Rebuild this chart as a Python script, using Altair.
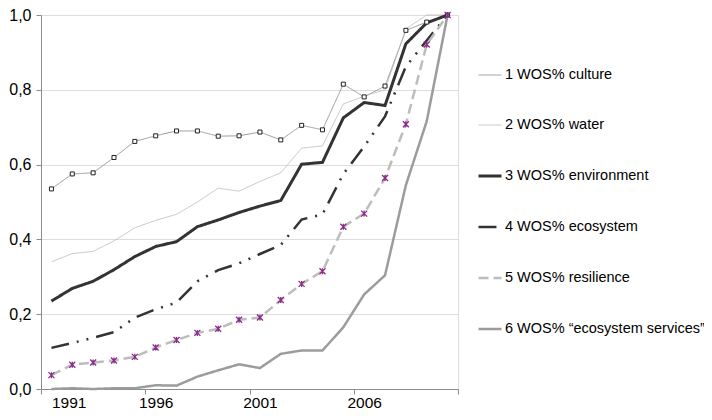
import altair as alt
import pandas as pd

years = list(range(1991, 2011))

series = [
    "1 WOS% culture",
    "2 WOS% water",
    "3 WOS% environment",
    "4 WOS% ecosystem",
    "5 WOS% resilience",
    "6 WOS% \u201cecosystem services\u201d",
]

culture = [0.535, 0.575, 0.578, 0.619, 0.662, 0.677, 0.690, 0.690, 0.676, 0.677,
           0.687, 0.666, 0.705, 0.693, 0.815, 0.781, 0.810, 0.959, 0.981, 1.0]
water = [0.340, 0.362, 0.368, 0.396, 0.431, 0.451, 0.467, 0.500, 0.537, 0.529,
         0.555, 0.578, 0.644, 0.650, 0.762, 0.783, 0.800, 0.963, 1.0, 1.0]
environment = [0.235, 0.269, 0.288, 0.319, 0.354, 0.381, 0.394, 0.434, 0.452, 0.472,
               0.489, 0.504, 0.601, 0.606, 0.725, 0.766, 0.758, 0.923, 0.979, 1.0]
ecosystem = [0.110, 0.123, 0.137, 0.152, 0.191, 0.213, 0.231, 0.288, 0.318, 0.336,
             0.361, 0.385, 0.453, 0.467, 0.575, 0.648, 0.729, 0.862, 0.932, 1.0]
resilience = [0.037, 0.065, 0.071, 0.076, 0.086, 0.111, 0.131, 0.150, 0.161, 0.185,
              0.191, 0.238, 0.281, 0.315, 0.434, 0.469, 0.564, 0.708, 0.921, 1.0]
services = [0.0, 0.002, 0.0, 0.002, 0.002, 0.010, 0.009, 0.033, 0.050, 0.066,
            0.056, 0.094, 0.103, 0.103, 0.165, 0.253, 0.304, 0.545, 0.716, 1.0]

values = [culture, water, environment, ecosystem, resilience, services]

rows = []
for s, vals in zip(series, values):
    for y, v in zip(years, vals):
        rows.append({"series": s, "year": y, "value": v})
df = pd.DataFrame(rows)

line_colors = ["#9a9a9a", "#b8b8b8", "#333333", "#333333", "#bdbdbd", "#9c9c9c"]
line_widths = [1, 0.8, 3, 2.5, 2.5, 2.5]
line_dashes = [[1, 0], [1, 0], [1, 0], [18, 8, 2, 8, 2, 8], [10, 5], [1, 0]]

font = "Liberation Sans"

x_enc = alt.X(
    "year:Q",
    scale=alt.Scale(domain=[1990.5, 2010.5], nice=False, zero=False),
    axis=alt.Axis(
        title=None,
        values=[1990.5, 1995.5, 2000.5, 2005.5, 2010.5],
        labelExpr="datum.value > 2010 ? '' : toString(datum.value + 0.5)",
        labelOffset=10.4,
        labelOverlap=False,
        grid=False,
        domainColor="#8c8c8c",
        tickColor="#8c8c8c",
        tickSize=5,
        labelPadding=1,
        labelFontSize=15.5,
        labelFont=font,
        labelColor="#000000",
    ),
)
y_enc = alt.Y(
    "value:Q",
    scale=alt.Scale(domain=[0, 1], nice=False),
    axis=alt.Axis(
        title=None,
        values=[0, 0.2, 0.4, 0.6, 0.8, 1.0],
        labelExpr="replace(format(datum.value, '.1f'), '.', ',')",
        grid=True,
        gridColor="#dddddd",
        domainColor="#8c8c8c",
        tickColor="#8c8c8c",
        tickSize=5,
        labelPadding=5,
        labelFontSize=16,
        labelFont=font,
        labelColor="#000000",
    ),
)

legend = alt.Legend(
    title=None,
    orient="none",
    legendX=436,
    legendY=48,
    symbolType="stroke",
    symbolSize=529,
    rowPadding=31,
    labelOffset=2,
    labelFontSize=14.5,
    labelFont=font,
    labelColor="#000000",
    labelLimit=400,
)

lines = alt.Chart(df).mark_line().encode(
    x=x_enc,
    y=y_enc,
    color=alt.Color("series:O", scale=alt.Scale(domain=series, range=line_colors), legend=legend),
    strokeWidth=alt.StrokeWidth("series:O", scale=alt.Scale(type="ordinal", domain=series, range=line_widths), legend=legend),
    strokeDash=alt.StrokeDash("series:O", scale=alt.Scale(domain=series, range=line_dashes), legend=legend),
    order=alt.Order("year:Q"),
)

squares = alt.Chart(df[df["series"] == series[0]]).mark_point(
    shape="square", filled=True, fill="#ffffff", stroke="#222222", strokeWidth=1, size=16, opacity=1
).encode(x="year:Q", y="value:Q")

asterisk = "M-1,-1L1,1M-1,1L1,-1M0,-1L0,1"
stars = alt.Chart(df[df["series"] == series[4]]).mark_point(
    shape=asterisk, filled=False, stroke="#8a2a8a", strokeWidth=1.3, size=36, opacity=1
).encode(x="year:Q", y="value:Q")

chart = alt.layer(lines, squares, stars).properties(
    width=417,
    height=374,
    autosize=alt.AutoSizeParams(type="none"),
    padding={"left": 33, "top": 7, "right": 246, "bottom": 23},
).configure_view(stroke=None).configure(background="#ffffff")

chart.save("out.html", embed_options={"renderer": "svg", "actions": False})
